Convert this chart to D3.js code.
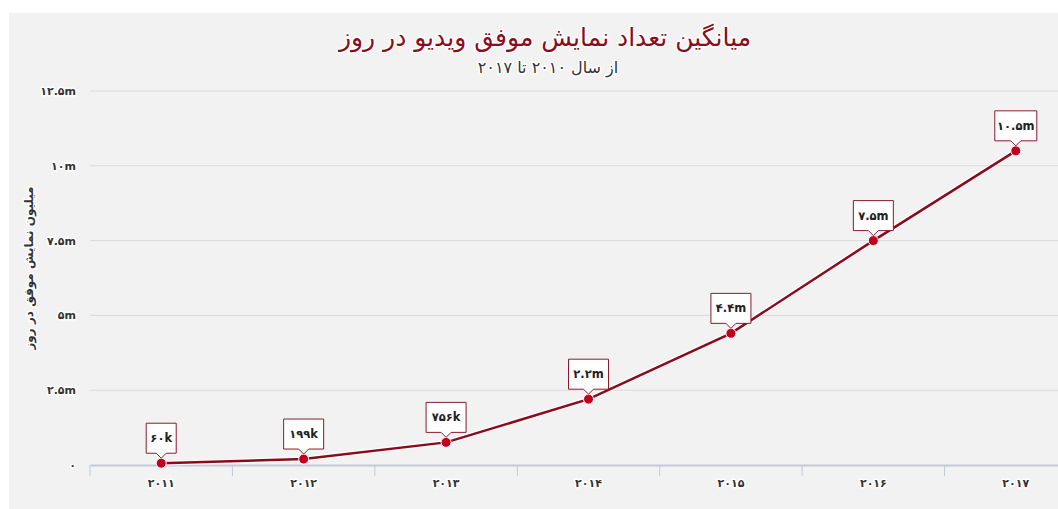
<!DOCTYPE html>
<html>
<head>
<meta charset="utf-8">
<script src="https://cdn.jsdelivr.net/npm/d3@7/dist/d3.min.js"></script>
<style>
  body { margin: 0; background: #fff; }
  text { font-family: "DejaVu Sans", sans-serif; }
  .halo { paint-order: stroke; stroke: #fff; stroke-width: 3px; stroke-linejoin: round; }
</style>
</head>
<body>
<div id="chart"></div>
<script>
// years (shown with Persian digits), values in millions, point labels
var years = ["۲۰۱۱", "۲۰۱۲", "۲۰۱۳", "۲۰۱۴", "۲۰۱۵", "۲۰۱۶", "۲۰۱۷"];
var views = [0.06, 0.199, 0.756, 2.2, 4.4, 7.5, 10.5];
var viewLabels = ["۶۰k", "۱۹۹k", "۷۵۶k", "۲.۲m", "۴.۴m", "۷.۵m", "۱۰.۵m"];
var yTicks = [0, 2.5, 5, 7.5, 10, 12.5];
var yTickLabels = ["۰", "۲.۵m", "۵m", "۷.۵m", "۱۰m", "۱۲.۵m"];

var width = 1058, height = 509;
var svg = d3.select("#chart").append("svg")
    .attr("width", width).attr("height", height);

// gray panel
svg.append("rect")
    .attr("x", 9).attr("y", 13)
    .attr("width", width).attr("height", height)
    .attr("fill", "#f2f2f2");

var x = d3.scaleBand().domain(years).range([90, 1087]);
var y = d3.scaleLinear().domain([0, 12.5]).range([465, 91]);

// grid
svg.append("g").selectAll("line")
  .data(yTicks.slice(1))
  .enter().append("line")
    .attr("x1", 90).attr("x2", 1087)
    .attr("y1", function (d) { return y(d); })
    .attr("y2", function (d) { return y(d); })
    .attr("stroke", "#dadada").attr("stroke-width", 1);

// y labels
svg.append("g").selectAll("text")
  .data(yTicks)
  .enter().append("text")
    .attr("class", "halo")
    .attr("x", 76)
    .attr("y", function (d) { return y(d) + 4; })
    .attr("text-anchor", "end")
    .style("font-size", "11px")
    .style("font-weight", "bold")
    .attr("fill", "#333")
    .text(function (d, i) { return yTickLabels[i]; });

// x axis
var xAxis = svg.append("g").attr("transform", "translate(0,465)")
    .call(d3.axisBottom(x).tickSize(0).tickPadding(14));
xAxis.select(".domain").attr("stroke", "#c3cad8").attr("stroke-width", 2);
xAxis.selectAll("text")
    .attr("class", "halo")
    .attr("fill", "#333")
    .style("font-size", "11px")
    .style("font-weight", "bold")
    .style("font-family", "DejaVu Sans, sans-serif");
svg.append("g").selectAll("line")
  .data(years)
  .enter().append("line")
    .attr("x1", function (d) { return x(d); })
    .attr("x2", function (d) { return x(d); })
    .attr("y1", 465).attr("y2", 476)
    .attr("stroke", "#c3cad8").attr("stroke-width", 1);

// titles
svg.append("text")
    .attr("class", "halo")
    .attr("x", 545).attr("y", 46)
    .attr("text-anchor", "middle")
    .style("font-size", "25px")
    .attr("fill", "#8b0b1c")
    .text("میانگین تعداد نمایش موفق ویدیو در روز");
svg.append("text")
    .attr("class", "halo")
    .attr("x", 548).attr("y", 73)
    .attr("text-anchor", "middle")
    .style("font-size", "16px")
    .attr("fill", "#333")
    .text("از سال ۲۰۱۰ تا ۲۰۱۷");
svg.append("text")
    .attr("class", "halo")
    .attr("transform", "translate(33,268) rotate(-90)")
    .attr("text-anchor", "middle")
    .style("font-size", "12px")
    .style("font-weight", "bold")
    .attr("fill", "#333")
    .text("میلیون نمایش موفق در روز");

// line
var cx = function (d, i) { return x(years[i]) + x.bandwidth() / 2; };
var line = d3.line().x(cx).y(function (d) { return y(d); });
svg.append("path").datum(views)
    .attr("d", line).attr("fill", "none")
    .attr("stroke", "#fff").attr("stroke-width", 5).attr("opacity", 0.8);
svg.append("path").datum(views)
    .attr("d", line).attr("fill", "none")
    .attr("stroke", "#8b0b1c").attr("stroke-width", 2.5);

svg.append("g").selectAll("circle")
  .data(views)
  .enter().append("circle")
    .attr("cx", cx)
    .attr("cy", function (d) { return y(d); })
    .attr("r", 5)
    .attr("fill", "#c1001f")
    .attr("stroke", "#fff").attr("stroke-width", 1);

// callout labels
var bh = 30, gap = 10, tip = 5;
var lab = svg.append("g").selectAll("g")
  .data(views)
  .enter().append("g")
    .attr("transform", function (d, i) {
      return "translate(" + cx(d, i) + "," + y(d) + ")";
    });
lab.append("path")
    .attr("d", function (d, i) {
      var w = viewLabels[i].length > 4 ? 42 : (viewLabels[i].length > 3 ? 40 : 30);
      var l = -w / 2, r = w / 2, b = -gap, t = -gap - bh;
      return "M" + l + "," + t + "H" + r + "V" + b + "H5L0," + (b + tip) + "L-5," + b + "H" + l + "Z";
    })
    .attr("fill", "#fff")
    .attr("stroke", "#8b1a2a").attr("stroke-width", 1);
lab.append("text")
    .attr("y", -gap - bh / 2 + 4)
    .attr("text-anchor", "middle")
    .style("font-size", "11.5px")
    .style("font-weight", "bold")
    .attr("fill", "#222")
    .text(function (d, i) { return viewLabels[i]; });
</script>
</body>
</html>
